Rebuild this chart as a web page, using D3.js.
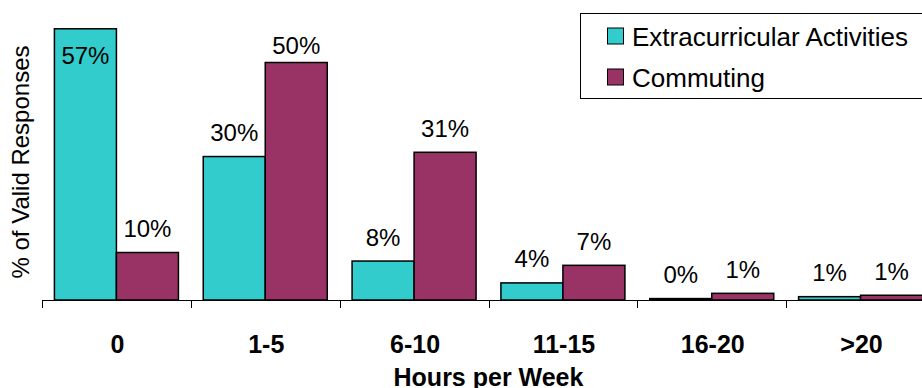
<!DOCTYPE html>
<html>
<head>
<meta charset="utf-8">
<script src="https://cdn.jsdelivr.net/npm/d3@7"></script>
<style>
  html, body { margin: 0; padding: 0; background: #fff; }
  svg { display: block; font-family: "Liberation Sans", Arial, sans-serif; }
</style>
</head>
<body>
<svg id="chart" width="922" height="388"></svg>
<script>
// Weekly hours spent on activities, share of valid responses (%)
const categories = ["0", "1-5", "6-10", "11-15", "16-20", ">20"];
const seriesNames = ["Extracurricular Activities", "Commuting"];
const extracurricular = [57.1, 30.2, 8.2, 3.6, 0.3, 0.7];
const commuting = [10.0, 50.0, 31.1, 7.3, 1.4, 1.0];
const colors = ["#33CCCC", "#993366"];

const series = [extracurricular, commuting];
const svg = d3.select("#chart");

// Plot frame
const baseY = 300;
const x0 = d3.scaleBand().domain(categories).range([42, 935]).paddingInner(0).paddingOuter(0);
const groupWidth = 124;
const x1 = d3.scaleBand().domain(seriesNames).range([0, groupWidth]).padding(0);
const groupOffset = (x0.bandwidth() - groupWidth) / 2;
const y = d3.scaleLinear().domain([0, 60]).range([baseY, 15]);

// Bars
const groups = svg.append("g").selectAll("g")
  .data(categories)
  .join("g")
  .attr("transform", c => `translate(${x0(c) + groupOffset},0)`);

const fmt = v => d3.format(".0f")(v) + "%";

categories.forEach((c, ci) => {
  const g = groups.filter(d => d === c);
  seriesNames.forEach((s, si) => {
    const v = series[si][ci];
    const top = y(v);
    g.append("rect")
      .attr("x", x1(s))
      .attr("y", top)
      .attr("width", x1.bandwidth())
      .attr("height", baseY - top)
      .attr("fill", colors[si])
      .attr("stroke", "#000")
      .attr("stroke-width", 1.5);

    // value label: above the bar, kept below the plot ceiling; inside tall bars
    let ly = top - 15.5;
    if (top < 38) ly = top + 35;
    else ly = Math.max(ly, 54);
    g.append("text")
      .attr("x", x1(s) + x1.bandwidth() / 2)
      .attr("y", ly)
      .attr("text-anchor", "middle")
      .attr("font-size", 24)
      .attr("fill", "#000")
      .text(fmt(v));
  });
});

// Category axis
const xAxis = svg.append("g").attr("transform", `translate(0,${baseY})`);
xAxis.append("line")
  .attr("x1", 42).attr("x2", 935)
  .attr("y1", 0.5).attr("y2", 0.5)
  .attr("stroke", "#000").attr("stroke-width", 1);
const tickPositions = categories.map(c => x0(c)).concat([x0.range()[1]]);
xAxis.selectAll("line.tick")
  .data(tickPositions)
  .join("line")
  .attr("class", "tick")
  .attr("x1", d => Math.round(d) + 0.5).attr("x2", d => Math.round(d) + 0.5)
  .attr("y1", 0).attr("y2", 8)
  .attr("stroke", "#000").attr("stroke-width", 1);
xAxis.selectAll("text.cat")
  .data(categories)
  .join("text")
  .attr("class", "cat")
  .attr("x", c => x0(c) + x0.bandwidth() / 2 + 1)
  .attr("y", 53)
  .attr("text-anchor", "middle")
  .attr("font-size", 25)
  .attr("font-weight", "bold")
  .text(c => c);

// Axis titles
svg.append("text")
  .attr("x", (x0.range()[0] + x0.range()[1]) / 2)
  .attr("y", 386)
  .attr("text-anchor", "middle")
  .attr("font-size", 25)
  .attr("font-weight", "bold")
  .text("Hours per Week");

svg.append("text")
  .attr("transform", "translate(29,162) rotate(-90)")
  .attr("text-anchor", "middle")
  .attr("font-size", 24)
  .text("% of Valid Responses");

// Legend
const legend = svg.append("g");
legend.append("rect")
  .attr("x", 580.5).attr("y", 13.5)
  .attr("width", 400).attr("height", 85)
  .attr("fill", "#fff")
  .attr("stroke", "#000").attr("stroke-width", 1);
seriesNames.forEach((s, i) => {
  const rowY = 46 + i * 41;
  legend.append("rect")
    .attr("x", 607.5).attr("y", rowY - 18)
    .attr("width", 16).attr("height", 16)
    .attr("fill", colors[i])
    .attr("stroke", "#000").attr("stroke-width", 1);
  legend.append("text")
    .attr("x", 632)
    .attr("y", rowY)
    .attr("font-size", 26)
    .text(s);
});
</script>
</body>
</html>
